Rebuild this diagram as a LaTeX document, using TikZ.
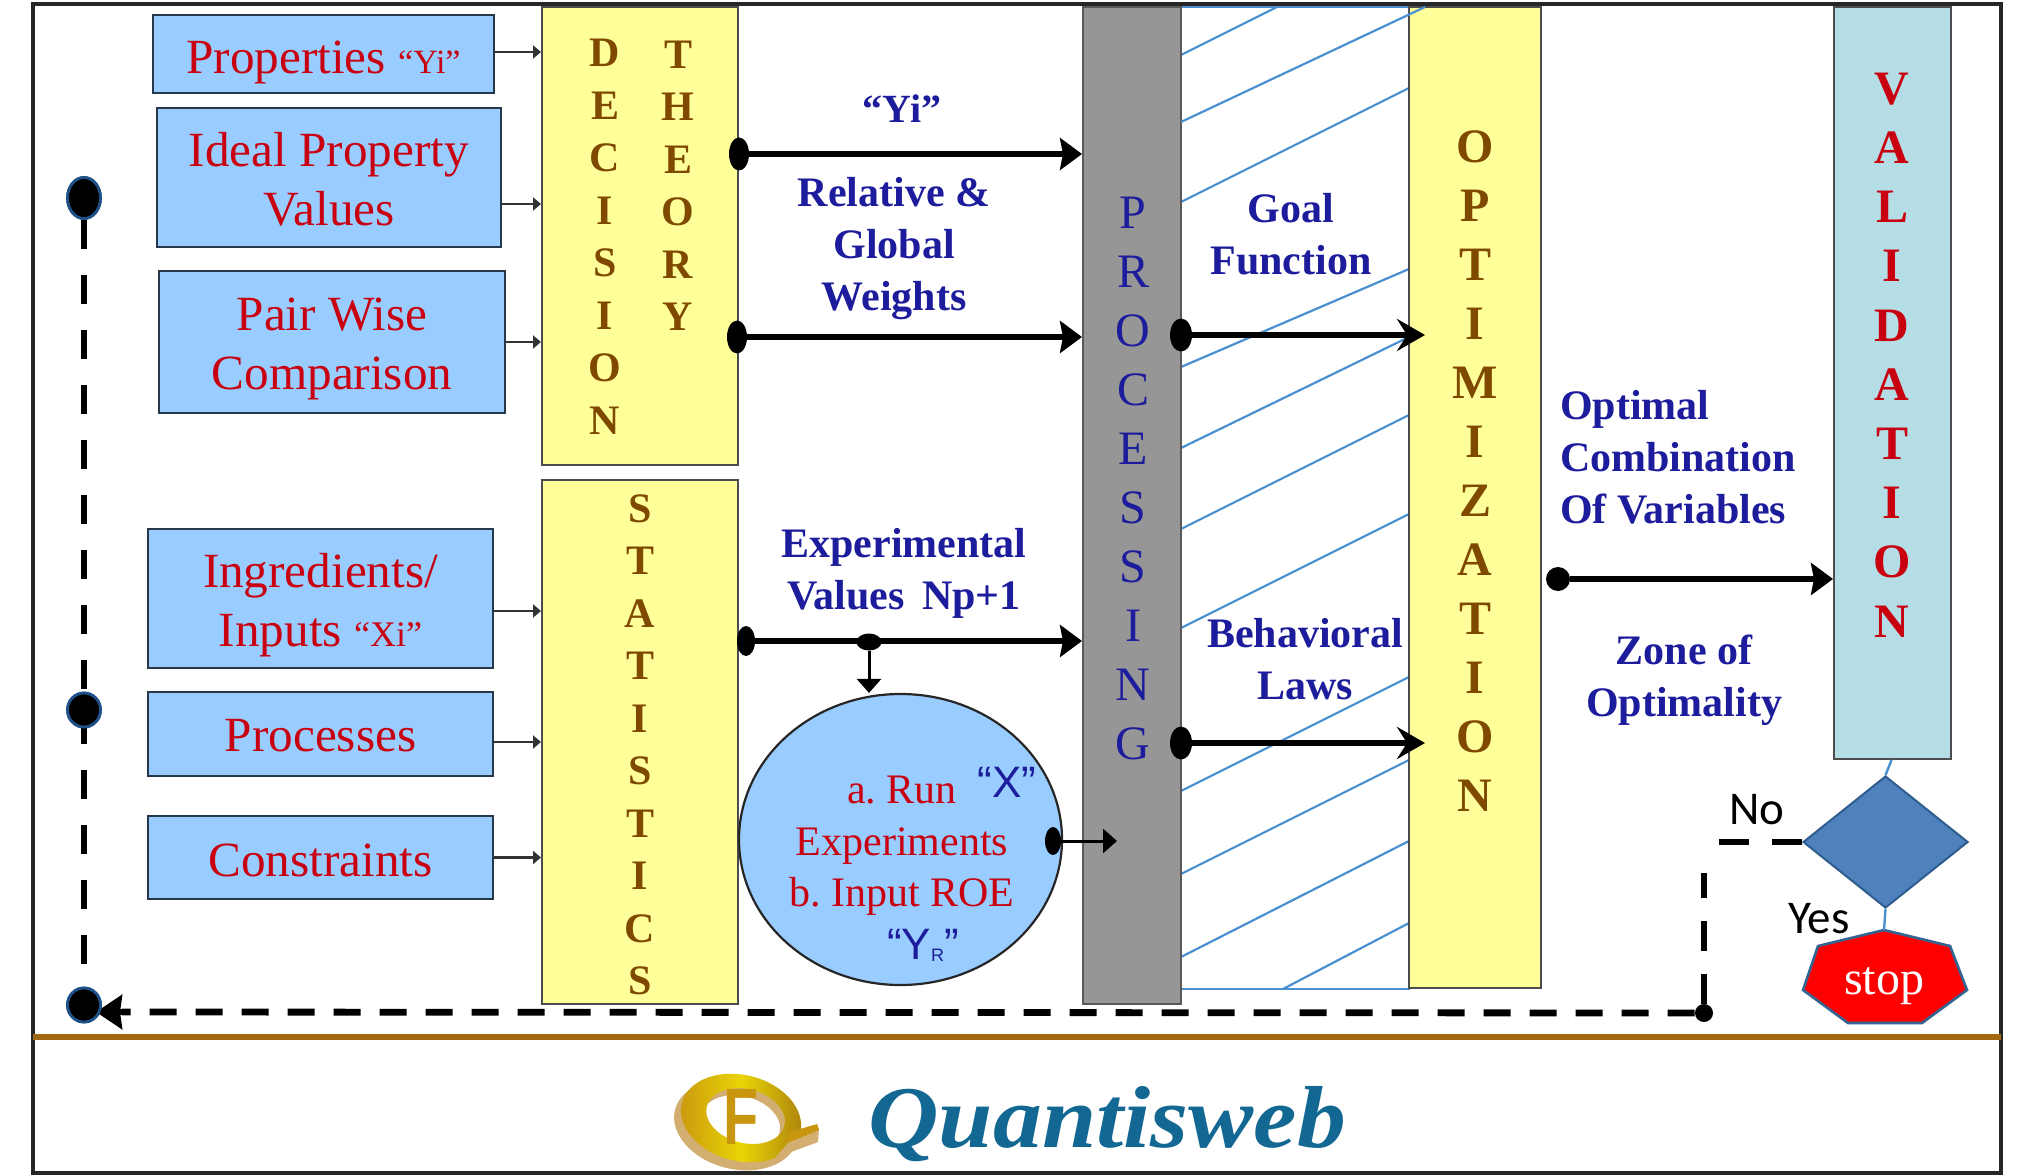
\documentclass[tikz,border=0pt]{standalone}
\usepackage{fontspec}
\setmainfont{Liberation Serif}
\newfontfamily\sansf{Carlito}
\newfontfamily\lsans{Liberation Sans}
\usetikzlibrary{arrows.meta,shapes.geometric,calc}
\newcommand{\fs}[2]{\fontsize{#1}{#2}\selectfont}
\definecolor{boxblue}{HTML}{99CCFF}
\definecolor{boxedge}{HTML}{26384A}
\definecolor{boxyel}{HTML}{FFFF99}
\definecolor{redtxt}{HTML}{C8000F}
\definecolor{navy}{HTML}{1C1C9C}
\definecolor{brn}{HTML}{7F4A00}
\definecolor{hatchc}{HTML}{4A90D0}
\definecolor{gold}{HTML}{C8960F}
\definecolor{tanc}{HTML}{D2AE70}
\definecolor{rulec}{HTML}{A06810}
\definecolor{valc}{HTML}{B5DDE5}
\definecolor{teal2}{HTML}{126892}
\definecolor{diaf}{HTML}{4F81BD}
\definecolor{diae}{HTML}{2F5C8F}
\definecolor{dotedge}{HTML}{1F5088}
\tikzset{
 inbox/.style={draw=boxedge,line width=1.2pt,fill=boxblue,inner sep=0pt},
 intext/.style={inner sep=0pt,align=center,text=redtxt,font=\fs{24.6}{29.5}},
 yel/.style={draw=black!70,line width=1pt,fill=boxyel,inner sep=0pt},
 vword/.style={align=center,inner sep=0pt,text=brn,font=\fs{21}{26.25}\bfseries},
 lab/.style={align=center,inner sep=0pt,text=navy,font=\fs{21}{26}\bfseries},
 bigarrow/.style={line width=2.6pt,-{Stealth[length=11pt,width=16pt,inset=1.5pt]}},
 goalarrow/.style={line width=2.6pt,-{Stealth[length=14pt,width=16pt,inset=5pt]}},
 thinarrow/.style={line width=1.5pt,-{Stealth[length=7pt,width=12pt,inset=0pt]}},
 smallarrow/.style={line width=1.1pt,draw=black!80,-{Stealth[length=4pt,width=6.5pt,inset=0pt]}},
 bdot/.style={ellipse,fill=black,inner sep=0pt},
 ldot/.style={ellipse,fill=black,draw=dotedge,line width=1.4pt,inner sep=0pt},
 dashH/.style={line width=3.4pt,dash pattern=on 13.5pt off 9.5pt},
 dashV/.style={line width=3.4pt,dash pattern=on 14.5pt off 13pt},
 dashR/.style={line width=3.4pt,dash pattern=on 15pt off 11.5pt},
 hatchl/.style={draw=hatchc,line width=1.1pt},
}
\begin{document}
\frenchspacing
\begin{tikzpicture}[x=0.5pt,y=-0.5pt]
\useasboundingbox (0,0) rectangle (2023,1176);
\fill[white] (0,0) rectangle (2023,1176);
% frame and rule
\draw[draw=black!85,line width=1.6pt] (33,4) rectangle (2001,1173);
\draw[draw=rulec,line width=3pt] (33,1037) -- (2001,1037);
% hatch panel
\coordinate (hA) at (1181,7); \coordinate (hB) at (1409,989);
\draw[hatchl] (hA) rectangle (hB);
\foreach \a/\b/\c/\d in {1181/55/1277/7,1181/202/1409/88,1181/367/1409/269,1181/448/1409/337,1181/529/1409/415,1181/628/1409/514,1181/791/1409/677,1181/874/1409/760,1181/957/1409/841,1283/989/1409/923}
  \draw[hatchl] (\a,\b) -- (\c,\d);
% boxes
\node[inbox,minimum width=170.5pt,minimum height=39pt] (prop) at (323.5,54) {};
\node[inbox,minimum width=172pt,minimum height=69.5pt] (ideal) at (329,177.5) {};
\node[inbox,minimum width=173pt,minimum height=71pt] (pair) at (332,342) {};
\node[inbox,minimum width=172.5pt,minimum height=69.5pt] (ingr) at (320.5,598.5) {};
\node[inbox,minimum width=172.5pt,minimum height=42pt] (procs) at (320.5,734) {};
\node[inbox,minimum width=172.5pt,minimum height=41.5pt] (cons) at (320.5,857.5) {};
\node[intext] (tprop) at (323.5,62) {Properties {\fs{17}{17}“Yi”}};
\node[intext] (tideal) at (329,179) {Ideal Property\\Values};
\node[intext] (tpair) at (332,348.5) {Pair Wise\\Comparison};
\node[intext] (tingr) at (320.5,605) {Ingredients/\\Inputs {\fs{18}{18}“Xi”}};
\node[intext] (tprocs) at (320.5,735.5) {Processes};
\node[intext] (tcons) at (320.5,860) {Constraints};
\node[yel,minimum width=98pt,minimum height=229pt] (dec) at (640,236) {};
\node[yel,minimum width=98pt,minimum height=262pt] (stat) at (640,742) {};
\node[draw=black!65,line width=1pt,fill=black!41,inner sep=0pt,minimum width=49pt,minimum height=498.5pt] (pr) at (1132,505.5) {};
\node[yel,minimum width=66pt,minimum height=490.5pt] (opt) at (1475,497.5) {};
\node[draw=black!70,line width=1pt,fill=valc,inner sep=0pt,minimum width=58.5pt,minimum height=376pt] (val) at (1892.5,383) {};
% the hatch line running over the top of the yellow bar
\draw[hatchl] (1181,122) -- (1425,7);
% vertical words
\node[vword] (wdec) at (605,237) {D\\E\\C\\I\\S\\I\\O\\N};
\node[vword] (wthe) at (678,186) {T\\H\\E\\O\\R\\Y};
\node[vword] (wsta) at (640,745) {S\\T\\A\\T\\I\\S\\T\\I\\C\\S};
\node[vword,font=\fs{24}{29.5}\bfseries] (wopt) at (1475,471) {O\\P\\T\\I\\M\\I\\Z\\A\\T\\I\\O\\N};
\node[vword,text=redtxt,font=\fs{24}{29.6}\bfseries] (wval) at (1892,355) {V\\A\\L\\I\\D\\A\\T\\I\\O\\N};
\node[vword,text=navy,font=\fs{24}{29.5}] (wpro) at (1133,479) {P\\R\\O\\C\\E\\S\\S\\I\\N\\G};
% circle
\node[ellipse,draw=black!85,line width=1.1pt,fill=boxblue,inner sep=0pt,minimum width=161.5pt,minimum height=145.5pt] (run) at (900.5,839.5) {};
\node[inner sep=0pt,text=redtxt,align=center,font=\fs{21}{25.7}] (runt) at (902,846) {a. Run\hspace{5pt}\\Experiments\\b. Input ROE};
\node[inner sep=0pt,text=navy,font=\lsans\fs{22}{22}] (qx) at (1007,782) {“X”};
\node[inner sep=0pt,text=navy,font=\lsans\fs{22}{22}] (qy) at (923,945) {“Y{\fs{9}{9}\raisebox{-1pt}{R}}”};
% labels
\node[lab,font=\fs{20}{26}\bfseries] (l1) at (902,109) {“Yi”};
\node[lab] (l2) at (894,249) {Relative \&\\Global\\Weights};
\node[lab] (l3) at (904,573) {Experimental\\Values\,  Np+1};
\node[lab] (l4) at (1291,234) {Goal\\Function};
\node[lab] (l5) at (1305,659) {Behavioral\\Laws};
\node[lab,align=left] (l6) at (1678,457) {Optimal\\Combination\\Of Variables};
\node[lab] (l7) at (1684,680) {Zone of\\Optimality};
% decision and stop
\node[diamond,aspect=1.26,draw=diae,line width=1pt,fill=diaf,inner sep=0pt,minimum width=82.5pt,minimum height=66pt] (dia) at (1885.5,842) {};
\coordinate (s1) at (1884,930); \coordinate (s2) at (1950,946); \coordinate (s3) at (1967,990); \coordinate (s4) at (1922,1023);
\coordinate (s5) at (1848,1023); \coordinate (s6) at (1803,990); \coordinate (s7) at (1818,946);
\draw[draw=hatchc!70!black,line width=1.3pt,fill=red] (s1)--(s2)--(s3)--(s4)--(s5)--(s6)--(s7)--cycle;
\node[inner sep=0pt,text=white,font=\fs{24}{24}] (stop) at (1884,986) {stop};
\draw[hatchc,line width=1.2pt] (val.south) ++(-1,0) -- (dia.north);
\draw[hatchc,line width=1.2pt] (dia.south) -- (s1);
\node[inner sep=0pt,font=\sansf\fs{23.5}{23.5}] (tno) at (1757,810) {No};
\node[inner sep=0pt,font=\sansf\fs{23.5}{23.5}] (tyes) at (1819,919) {Yes};
% small arrows
\coordinate (a1) at ([yshift=1pt]prop.east);
\coordinate (a2) at ([yshift=-13.25pt]ideal.east);
\coordinate (a3) at (pair.east);
\coordinate (a4) at ([yshift=-6.25pt]ingr.east);
\coordinate (a5) at ([yshift=-4pt]procs.east);
\coordinate (a6) at (cons.east);
\draw[smallarrow] (a1) -- (dec.west |- a1);
\draw[smallarrow] (a2) -- (dec.west |- a2);
\draw[smallarrow] (a3) -- (dec.west |- a3);
\draw[smallarrow] (a4) -- (stat.west |- a4);
\draw[smallarrow] (a5) -- (stat.west |- a5);
\draw[smallarrow] (a6) -- (stat.west |- a6);
% main arrows
\node[bdot,minimum width=10pt,minimum height=16.5pt] (d1) at (739,154) {};
\node[bdot,minimum width=10pt,minimum height=16.5pt] (d2) at (737,337) {};
\node[bdot,minimum width=9pt,minimum height=15pt] (d3) at (746,641) {};
\node[bdot,minimum width=12.5pt,minimum height=8.5pt] (d4) at (869,642) {};
\node[bdot,minimum width=8pt,minimum height=14pt] (d5) at (1053,841) {};
\node[bdot,minimum width=11pt,minimum height=16.5pt] (d6) at (1181,335) {};
\node[bdot,minimum width=11pt,minimum height=16.5pt] (d7) at (1181,743) {};
\node[bdot,minimum width=12pt,minimum height=12pt] (d8) at (1558,579) {};
\draw[bigarrow] (d1) -- (pr.west |- d1);
\draw[bigarrow] (d2) -- (pr.west |- d2);
\draw[bigarrow] (d3) -- (pr.west |- d3);
\draw[thinarrow] (d4) -- (run.north -| d4);
\coordinate (d5t) at (1117,841);
\draw[thinarrow] (d5) -- (d5t);
\coordinate (g1) at (1425,335); \coordinate (g2) at (1425,743);
\draw[goalarrow] (d6) -- (g1);
\draw[goalarrow] (d7) -- (g2);
\draw[bigarrow] (d8) -- (val.west |- d8);
% feedback
\node[bdot,minimum width=9pt,minimum height=9pt] (fb) at (1704,1013) {};
\node[ldot,minimum width=16.5pt,minimum height=20.5pt] (lt) at (84,198) {};
\node[ldot,minimum width=16.5pt,minimum height=17pt] (lm) at (84,710) {};
\node[ldot,minimum width=16.5pt,minimum height=17pt] (lb) at (84,1005) {};
\coordinate (c1) at (1717,842); \coordinate (c2) at (1704,873);
\draw[dashR] (dia.west) -- (c1);
\draw[dashR] (fb) -- (c2);
\coordinate (e1) at (96,1012);
\coordinate (e2) at (122,1012);
\draw[dashH] (fb.west) -- (e2);
\draw[line width=3.4pt,-{Stealth[length=13pt,width=17pt,inset=1pt]}] (e2) -- (e1);
\draw[dashV] (lt) -- (lb);
\node[ldot,minimum width=16.5pt,minimum height=17pt] at (lm) {};
\node[ldot,minimum width=16.5pt,minimum height=17pt] at (lb) {};
\node[ldot,minimum width=16.5pt,minimum height=20.5pt] at (lt) {};
% logo
\begin{scope}[shift={(741,1118)},rotate=-14]
\fill[tanc,even odd rule,shift={(-3,8)}] (0,0) ellipse (63 and 44) (4,-3) ellipse (40 and 27);
\shade[even odd rule,left color=gold,right color=gold!85!black,middle color=yellow!60!gold] (0,0) ellipse (61 and 43) (4,-3) ellipse (40 and 27);
\end{scope}
\fill[tanc] (793,1137) -- (819,1128) -- (818,1142) -- (775,1158) -- cycle;
\fill[gold] (790,1132) -- (817,1124) -- (819,1130) -- (785,1144) -- cycle;
\node[inner sep=0pt,text=gold,font=\lsans\fs{40}{40}\bfseries] (lf) at (741,1117) {\scalebox{0.72}[1]{F}};
\node[inner sep=0pt,anchor=base west,text=teal2,font=\fs{44}{44}\bfseries\itshape] (qw) at (868,1147) {\scalebox{1.11}[1]{Quantisweb}};
\end{tikzpicture}
\end{document}
